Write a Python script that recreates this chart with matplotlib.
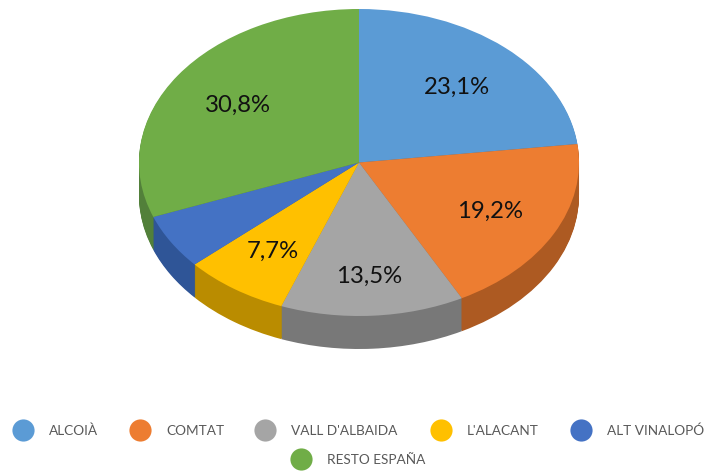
import matplotlib.pyplot as plt

plt.rcParams['font.family'] = ['Lato', 'DejaVu Sans']

categorias = ['ALCOIÀ', 'COMTAT', "VALL D'ALBAIDA", "L'ALACANT", 'ALT VINALOPÓ', 'RESTO ESPAÑA']
porcentajes = [23.1, 19.2, 13.5, 7.7, 5.8, 30.8]
colores = ['#5B9BD5', '#ED7D31', '#A5A5A5', '#FFC000', '#4472C4', '#70AD47']
colores_lado = ['#3F6F9B', '#AD5A22', '#787878', '#BA8C00', '#2F5597', '#52803A']

W, H = 708, 471
fig = plt.figure(figsize=(W / 100, H / 100), dpi=100)

# tarta aplanada: radio 1 = 220 px en x, 153.5 px en y
cx, cy, rx, ry = 359, 162.5, 220, 153.5
ax = fig.add_axes([0, 0, 1, 1])

# el lateral se hace apilando tartas desplazadas hacia abajo
capas = 33
for i in range(capas, 0, -1):
    ax.pie(porcentajes, colors=colores_lado, startangle=90, counterclock=False,
           center=(0, -i / ry), radius=1, wedgeprops={'linewidth': 0.4, 'edgecolor': 'none'})
ax.pie(porcentajes, colors=colores, startangle=90, counterclock=False,
       center=(0, 0), radius=1, wedgeprops={'linewidth': 0})
ax.set_aspect('auto')
ax.set_xlim(-cx / rx, (W - cx) / rx)
ax.set_ylim((cy - H) / ry, cy / ry)

# capa en pixeles para textos y leyenda
ov = fig.add_axes([0, 0, 1, 1])
ov.set_xlim(0, W)
ov.set_ylim(H, 0)
ov.axis('off')

pos_etiquetas = [(456.5, 87.5), (490, 211), (369, 276.5), (273, 251.5), None, (238, 105.5)]
for v, p in zip(porcentajes, pos_etiquetas):
    if p is None:
        continue
    ov.text(p[0], p[1], f'{v:.1f}%'.replace('.', ','), fontsize=17.2, color='#111111',
            ha='center', va='center')

pos_leyenda = [(23, 430), (140, 430), (265, 430), (441, 430), (581, 430), (301, 459)]
for nombre, color, p in zip(categorias, colores, pos_leyenda):
    ov.scatter([p[0]], [p[1]], s=255, color=color, linewidths=0)
    ov.text(p[0] + 26, p[1] + 1, nombre, fontsize=9.8, color='#595959', ha='left', va='center')

fig.savefig('out.png', dpi=100)
